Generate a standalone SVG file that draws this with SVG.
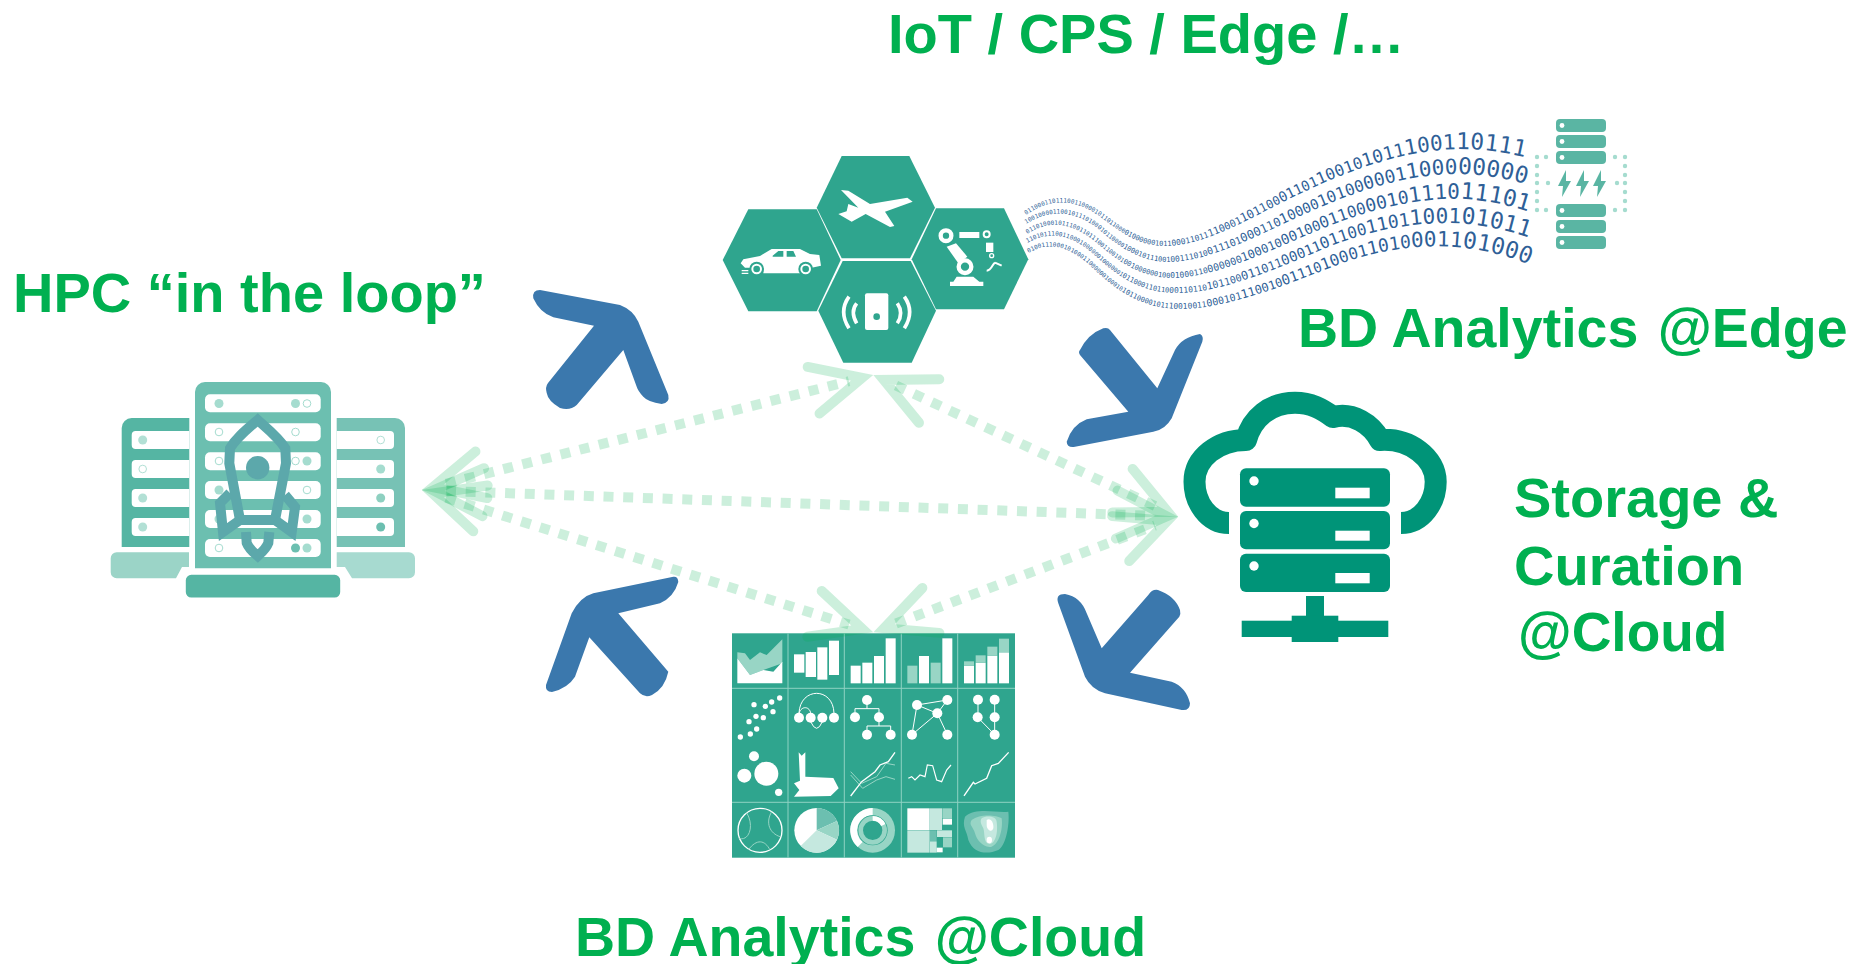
<svg xmlns="http://www.w3.org/2000/svg" xmlns:xlink="http://www.w3.org/1999/xlink" width="1860" height="964" viewBox="0 0 1860 964">
<style>
.t{font-family:"Liberation Sans",Arial,sans-serif;font-weight:700;font-size:56px;fill:#00b050;white-space:pre}
.t2{font-size:55.500px}
.hex{fill:#2fa58e}
.w{fill:#fff}.lw{stroke:#fff;fill:none}
.l1{fill:#98d5c5}.l2{fill:#c5e8df}.l3{fill:#6cbfb0}
.ln{stroke:#98d5c5;fill:none;stroke-width:3}
.blue{fill:#3b78ad}
.dash{stroke:#00b050;stroke-opacity:.2;stroke-width:10;stroke-dasharray:10 9.7;fill:none}
.head{stroke:#00b050;stroke-opacity:.2;stroke-width:10;fill:none;stroke-linecap:round;stroke-miterlimit:6}
.bin{font-family:"DejaVu Sans Mono","Liberation Mono",monospace;fill:#2f5f97}
.s5{font-size:6px}.s6{font-size:7px}.s7{font-size:8px}.s8{font-size:10px}.s10{font-size:12px}.s12{font-size:14px}.s14{font-size:16px}.s16{font-size:18px}.s18{font-size:21px}.s20{font-size:23px}
.srv{fill:#5ab5a3}.dot{fill:#a5dccf}
.cl{fill:#009478}
.slot{fill:#fff}
.rk{fill:none;stroke:#5ca8ab;stroke-width:10;stroke-linejoin:miter}
</style>
<defs>
<path id="h" class="head" d="M-61.600-24 L-11.600 0 L-61.600 24"/>
<path id="r1" transform="translate(1020 0) scale(1.2053 1) translate(-1020 0)" d="M1025 215C1045 198 1065 198 1087 217C1105 234 1120 246 1140 246C1175 246 1215 215 1250 195C1290 172 1335 150 1385 149C1405 149 1425 153 1442 158"/>
<path id="r2" transform="translate(1020 0) scale(1.2053 1) translate(-1020 0)" d="M1025 224C1045 209 1064 210 1084 228C1102 247 1119 261 1142 262C1179 262 1222 232 1260 212C1299 191 1342 173 1388 174C1408 175 1426 179 1442 185"/>
<path id="r3" transform="translate(1020 0) scale(1.2053 1) translate(-1020 0)" d="M1026 234C1045 219 1062 223 1081 240C1100 260 1118 277 1145 278C1182 278 1228 250 1270 229C1308 210 1350 197 1390 199C1410 201 1428 206 1443 212"/>
<path id="r4" transform="translate(1020 0) scale(1.2053 1) translate(-1020 0)" d="M1026 243C1045 230 1061 235 1078 251C1097 272 1116 292 1148 293C1186 294 1234 268 1280 245C1316 228 1358 220 1392 224C1412 227 1429 232 1443 238"/>
<path id="r5" transform="translate(1020 0) scale(1.2053 1) translate(-1020 0)" d="M1027 253C1045 240 1060 248 1075 262C1095 285 1115 307 1150 309C1190 310 1240 285 1290 262C1325 247 1365 243 1395 249C1415 253 1430 258 1443 265"/>
</defs>
<rect width="1860" height="964" fill="#fff"/>

<g id="label-iot"><text class="t" x="888" y="53">IoT / CPS / Edge /…</text></g>
<g id="label-hpc"><text class="t" x="13" y="312">HPC “in the loop”</text></g>
<g id="label-edge"><text class="t t2" x="1298" y="347">BD Analytics <tspan dx="4">@Edge</tspan></text></g>
<g id="label-storage"><text class="t" x="1514" y="517">Storage &amp;</text><text class="t" x="1514" y="585">Curation</text><text class="t" x="1518" y="651" style="font-size:55px">@Cloud</text></g>
<g id="label-cloud"><text class="t t2" x="575" y="956">BD Analytics <tspan dx="4">@Cloud</tspan></text></g>

<g id="hpc">
<path d="M121.700 547V428a10 10 0 0 1 10-10H189.300V547Z" fill="#55b5a3"/>
<path d="M336.700 418H395a10 10 0 0 1 10 10V547H336.700Z" fill="#77c2b5"/>
<path d="M116.700 552.300H189V567H182L176 578.300H116.700a6 6 0 0 1-6-6V558.300a6 6 0 0 1 6-6Z" fill="#9bd4c7"/>
<path d="M336.700 552.300H409a6 6 0 0 1 6 6V572.300a6 6 0 0 1-6 6H352L345 567H336.700Z" fill="#a7dad0"/>
<g class="slot">
<path d="M135.700 431H189.300V449H135.700a4 4 0 0 1-4-4V435a4 4 0 0 1 4-4ZM135.700 460H189.300V478H135.700a4 4 0 0 1-4-4V464a4 4 0 0 1 4-4ZM135.700 489H189.300V507H135.700a4 4 0 0 1-4-4V493a4 4 0 0 1 4-4ZM135.700 518H189.300V536H135.700a4 4 0 0 1-4-4V522a4 4 0 0 1 4-4Z"/>
<path d="M336.700 431H390a4 4 0 0 1 4 4V445a4 4 0 0 1-4 4H336.700ZM336.700 460H390a4 4 0 0 1 4 4V474a4 4 0 0 1-4 4H336.700ZM336.700 489H390a4 4 0 0 1 4 4V503a4 4 0 0 1-4 4H336.700ZM336.700 518H390a4 4 0 0 1 4 4V532a4 4 0 0 1-4 4H336.700Z"/>
</g>
<circle cx="142.700" cy="440" r="4.500" fill="#b2e0d5"/><circle cx="142.700" cy="469" r="3.800" fill="#fff" stroke="#b2e0d5"/><circle cx="142.700" cy="498" r="4.500" fill="#b2e0d5"/><circle cx="142.700" cy="527" r="4.500" fill="#b2e0d5"/>
<circle cx="380.700" cy="440" r="3.800" fill="#fff" stroke="#b2e0d5"/><circle cx="380.700" cy="469" r="4.500" fill="#a5dccf"/><circle cx="380.700" cy="498" r="4.500" fill="#8ed0c0"/><circle cx="380.700" cy="527" r="4.500" fill="#6cbfb0"/>
<path d="M195 392a10 10 0 0 1 10-10H321a10 10 0 0 1 10 10V568.300H195Z" fill="#6cbfb0"/>
<g class="slot">
<rect x="205" y="394.300" width="115.700" height="18" rx="5"/><rect x="205" y="423.300" width="115.700" height="18" rx="5"/><rect x="205" y="452.300" width="115.700" height="18" rx="5"/><rect x="205" y="481" width="115.700" height="18" rx="5"/><rect x="205" y="510" width="115.700" height="18" rx="5"/><rect x="205" y="539" width="115.700" height="18" rx="5"/>
</g>
<circle cx="219" cy="403.500" r="4.500" fill="#a5dccf"/><circle cx="295.500" cy="403.500" r="4.500" fill="#a5dccf"/><circle cx="307" cy="403.500" r="3.800" fill="#fff" stroke="#a5dccf"/>
<circle cx="219" cy="432" r="3.800" fill="#fff" stroke="#a5dccf"/><circle cx="295.500" cy="432" r="3.800" fill="#fff" stroke="#a5dccf"/>
<circle cx="219" cy="461" r="3.800" fill="#fff" stroke="#a5dccf"/><circle cx="295.500" cy="461" r="3.800" fill="#fff" stroke="#a5dccf"/><circle cx="307" cy="461" r="4.500" fill="#a5dccf"/>
<circle cx="219" cy="490" r="4.500" fill="#a5dccf"/><circle cx="307" cy="490" r="3.800" fill="#fff" stroke="#a5dccf"/>
<circle cx="219" cy="519" r="4.500" fill="#a5dccf"/><circle cx="307" cy="519" r="4.500" fill="#a5dccf"/>
<circle cx="219" cy="548" r="3.800" fill="#fff" stroke="#a5dccf"/><circle cx="295.500" cy="548" r="4.500" fill="#6cbfb0"/><circle cx="307" cy="548" r="4.500" fill="#a5dccf"/>
<rect x="184.300" y="573.300" width="157.400" height="25.700" rx="7" fill="#55b5a3" stroke="#fff" stroke-width="3"/>
<path class="rk" d="M257.700 420C246 430 236 438 230 448.300L229.300 463.300L240 520H275L286 463.300L285.300 448.300C279 438 269 430 257.700 420Z"/>
<path class="rk" d="M230 493L220 503L223 532L240 520M285 495L295 507L291.700 532L275 520"/>
<path class="rk" d="M246 532L246.700 543C249 549 253 552 257.700 556C262 552 266 549 268.300 543L269.300 532"/>
<circle cx="257.700" cy="467.700" r="11.700" fill="#5ca8ab"/>
</g>

<g id="iot">
<polygon class="hex" points="841.700,156 909.300,156 935,207.700 910,258.300 841.700,258.300 816.700,207.700"/>
<polygon class="hex" points="748.300,209.300 816.700,209.300 840.700,260 816.700,311.300 748.300,311.300 722.700,260"/>
<polygon class="hex" points="936,208.300 1004,208.300 1028.300,259.300 1004,309.300 936,309.300 911.700,259.300"/>
<polygon class="hex" points="842.700,261 910.700,261 936,310.700 911.700,362.700 843.300,362.700 818.300,310.700"/>
<g transform="translate(700 100) scale(.33333)">
<polygon class="w" points="423,270 445,272 510,312 622,293 638,305 555,335 583,378 570,381 497,342 455,365 415,342 440,334 445,312 475,323"/>
<path class="w" d="M122 490L130 478L180 468L215 447H300L330 462L358 465L363 497L335 503H300V520H190V503H135Z"/>
<g fill="#2fa58e"><path d="M218 467L235 453H250V470H218ZM260 453H280L288 470H260Z"/><circle cx="170" cy="507" r="22"/><circle cx="317" cy="507" r="22"/></g>
<circle cx="170" cy="507" r="13" fill="none" stroke="#fff" stroke-width="6"/><circle cx="317" cy="507" r="13" fill="none" stroke="#fff" stroke-width="6"/>
<path d="M125 512H145M200 512H290M125 520H145" stroke="#fff" stroke-width="4"/>
<circle cx="738" cy="407" r="16" fill="none" stroke="#fff" stroke-width="13"/>
<rect class="w" x="778" y="396" width="60" height="18"/><circle cx="860" cy="403" r="9" fill="none" stroke="#fff" stroke-width="6"/>
<rect class="w" x="858" y="428" width="22" height="28"/><circle cx="875" cy="467" r="6" fill="none" stroke="#fff" stroke-width="4"/>
<path d="M860 512C875 512 878 490 885 488M885 488L905 497" stroke="#fff" stroke-width="6" fill="none"/>
<polygon class="w" points="740,440 768,430 802,470 775,490"/><circle cx="795" cy="500" r="19" fill="none" stroke="#fff" stroke-width="13"/>
<path class="w" d="M770 530H820L838 545H850V558H750V545H760Z"/>
<rect class="w" x="495" y="580" width="70" height="110" rx="6"/><circle cx="530" cy="650" r="10" fill="#2fa58e"/>
<path d="M447 590Q415 635 447 685M470 610Q450 635 470 670M613 590Q645 635 613 685M592 610Q612 640 592 670" stroke="#fff" stroke-width="11" fill="none"/>
</g>
</g>

<g id="stream">
<text class="bin"><textPath href="#r1"><tspan class="s5">011000110111001100001011011000</tspan><tspan class="s6">010000001011</tspan><tspan class="s7">00011011</tspan><tspan class="s8">110001</tspan><tspan class="s10">101100</tspan><tspan class="s12">01101</tspan><tspan class="s14">10010</tspan><tspan class="s16">1011</tspan><tspan class="s18">1001</tspan><tspan class="s20">10111</tspan></textPath></text>
<text class="bin"><textPath href="#r2"><tspan class="s5">100100001100101110100010110000</tspan><tspan class="s6">100010111001</tspan><tspan class="s7">00111010</tspan><tspan class="s8">011101</tspan><tspan class="s10">000110</tspan><tspan class="s12">10000</tspan><tspan class="s14">10100</tspan><tspan class="s16">0001</tspan><tspan class="s18">1000</tspan><tspan class="s20">00000</tspan></textPath></text>
<text class="bin"><textPath href="#r3"><tspan class="s5">011010001011100110111001100101</tspan><tspan class="s6">001000000100</tspan><tspan class="s7">01000110</tspan><tspan class="s8">000000</tspan><tspan class="s10">100010</tspan><tspan class="s12">00100</tspan><tspan class="s14">01100</tspan><tspan class="s16">0010</tspan><tspan class="s18">1110</tspan><tspan class="s20">11101</tspan></textPath></text>
<text class="bin"><textPath href="#r4"><tspan class="s5">110101110011000100000010000001</tspan><tspan class="s6">011000110110</tspan><tspan class="s7">00110110</tspan><tspan class="s8">101100</tspan><tspan class="s10">011011</tspan><tspan class="s12">00011</tspan><tspan class="s14">01100</tspan><tspan class="s16">1101</tspan><tspan class="s18">1001</tspan><tspan class="s20">01011</tspan></textPath></text>
<text class="bin"><textPath href="#r5"><tspan class="s5">010011100010100011000000100010</tspan><tspan class="s6">101100001011</tspan><tspan class="s7">10010011</tspan><tspan class="s8">000101</tspan><tspan class="s10">110010</tspan><tspan class="s12">01110</tspan><tspan class="s14">10001</tspan><tspan class="s16">1010</tspan><tspan class="s18">0011</tspan><tspan class="s20">01000</tspan></textPath></text>
</g>

<g id="edge-server">
<g class="srv"><rect x="1556" y="119" width="50" height="13" rx="4"/><rect x="1556" y="135" width="50" height="13" rx="4"/><rect x="1556" y="151" width="50" height="13" rx="4"/><rect x="1556" y="204" width="50" height="13" rx="4"/><rect x="1556" y="220" width="50" height="13" rx="4"/><rect x="1556" y="236" width="50" height="13" rx="4"/>
<polygon points="1566,170 1558,186 1563,186 1562,197 1571,181 1566,181"/><polygon points="1584,170 1576,186 1581,186 1580,197 1589,181 1584,181"/><polygon points="1601,170 1593,186 1598,186 1597,197 1606,181 1601,181"/></g>
<g fill="#fff"><circle cx="1562" cy="125.500" r="2.400"/><circle cx="1562" cy="141.500" r="2.400"/><circle cx="1562" cy="157.500" r="2.400"/><circle cx="1562" cy="210.500" r="2.400"/><circle cx="1562" cy="226.500" r="2.400"/><circle cx="1562" cy="242.500" r="2.400"/></g>
<g class="dot"><circle cx="1537" cy="157" r="2.200"/><circle cx="1546" cy="157" r="2.200"/><circle cx="1615" cy="157" r="2.200"/><circle cx="1625" cy="157" r="2.200"/><circle cx="1537" cy="166" r="2.200"/><circle cx="1625" cy="166" r="2.200"/><circle cx="1537" cy="175" r="2.200"/><circle cx="1625" cy="175" r="2.200"/><circle cx="1537" cy="183" r="2.200"/><circle cx="1548" cy="183" r="2.200"/><circle cx="1617" cy="183" r="2.200"/><circle cx="1625" cy="183" r="2.200"/><circle cx="1537" cy="192" r="2.200"/><circle cx="1625" cy="192" r="2.200"/><circle cx="1537" cy="201" r="2.200"/><circle cx="1625" cy="201" r="2.200"/><circle cx="1537" cy="210" r="2.200"/><circle cx="1546" cy="210" r="2.200"/><circle cx="1615" cy="210" r="2.200"/><circle cx="1625" cy="210" r="2.200"/></g>
</g>

<g id="cloud">
<path d="M1229 523C1208 523 1194.500 502 1194.500 481.700C1194.500 458 1218 440 1246 440C1252 418 1270 402.700 1295 402.700C1311 402.700 1322 409 1333 417C1353 412 1371 424 1380 440C1410 438 1435.700 458 1435.700 481.700C1435.700 502 1422 523 1401 523" fill="none" stroke="#009478" stroke-width="22" stroke-linejoin="round"/>
<g class="cl"><rect x="1240" y="468.300" width="150" height="38.400" rx="6"/><rect x="1240" y="511" width="150" height="38.300" rx="6"/><rect x="1240" y="553.700" width="150" height="38.300" rx="6"/><rect x="1306" y="596" width="18" height="21"/><rect x="1241.700" y="620.700" width="146.600" height="16.300"/><rect x="1291.700" y="615.700" width="46.600" height="26.300"/></g>
<g fill="#fff"><circle cx="1254" cy="481" r="4.700"/><circle cx="1254" cy="523.500" r="4.700"/><circle cx="1254" cy="566" r="4.700"/><rect x="1335.300" y="487.700" width="34.400" height="10.600"/><rect x="1335.300" y="530.700" width="34.400" height="10"/><rect x="1335.300" y="573" width="34.400" height="10.300"/></g>
</g>

<g id="analytics">
<rect x="732" y="633.300" width="283" height="224.400" fill="#2fa58e"/>
<path d="M788 633.300V857.700M844.300 633.300V857.700M901.300 633.300V857.700M957.700 633.300V857.700M732 688.300H1015M732 802.300H1015" stroke="#8fd2c3" stroke-width="1"/>
<g transform="translate(720 620) scale(.33333)">
<polygon class="l1" points="52,97 75,100 90,120 120,97 140,105 187,58 187,130 130,150 90,165 52,115"/>
<polygon class="w" points="52,190 52,115 90,165 130,150 160,155 187,125 187,190"/>
<g class="w"><rect x="222" y="103" width="31" height="55"/><rect x="257" y="96" width="31" height="75"/><rect x="292" y="82" width="30" height="97"/><rect x="327" y="62" width="30" height="103"/>
<rect x="392" y="137" width="30" height="53"/><rect x="427" y="128" width="30" height="62"/><rect x="462" y="108" width="30" height="82"/><rect x="497" y="55" width="30" height="135"/>
<rect x="597" y="108" width="30" height="82"/><rect x="667" y="55" width="30" height="135"/>
<rect x="732" y="137" width="30" height="53"/><rect x="767" y="128" width="30" height="62"/><rect x="802" y="107" width="30" height="83"/><rect x="837" y="97" width="30" height="93"/></g>
<g class="l1"><rect x="562" y="137" width="30" height="53"/><rect x="632" y="128" width="30" height="62"/><rect x="732" y="124" width="30" height="13"/><rect x="767" y="106" width="30" height="22"/><rect x="802" y="80" width="30" height="27"/><rect x="837" y="56" width="30" height="41"/></g>
<g class="w"><circle cx="61" cy="351" r="8"/><circle cx="91" cy="342" r="8"/><circle cx="110" cy="327" r="8"/><circle cx="87" cy="305" r="8"/><circle cx="108" cy="289" r="8"/><circle cx="130" cy="293" r="8"/><circle cx="159" cy="275" r="8"/><circle cx="136" cy="259" r="8"/><circle cx="155" cy="246" r="8"/><circle cx="179" cy="234" r="8"/><circle cx="102" cy="254" r="8"/></g>
<path class="lw" stroke-width="3" d="M237 280C240 200 340 200 342 280M237 280C245 255 270 260 272 280M272 305Q290 345 307 305"/>
<g class="w"><circle cx="237" cy="293" r="15"/><circle cx="272" cy="293" r="15"/><circle cx="307" cy="293" r="15"/><circle cx="342" cy="293" r="15"/>
<circle cx="441" cy="240" r="15"/><circle cx="405" cy="292" r="15"/><circle cx="477" cy="292" r="15"/><circle cx="441" cy="344" r="15"/><circle cx="512" cy="344" r="15"/>
<circle cx="591" cy="255" r="15"/><circle cx="682" cy="240" r="15"/><circle cx="652" cy="280" r="15"/><circle cx="576" cy="344" r="15"/><circle cx="682" cy="344" r="15"/>
<circle cx="774" cy="239" r="15"/><circle cx="824" cy="239" r="15"/><circle cx="773" cy="292" r="15"/><circle cx="824" cy="292" r="15"/><circle cx="824" cy="344" r="15"/>
<circle cx="102" cy="409" r="15"/><circle cx="73" cy="467" r="21"/><circle cx="139" cy="461" r="36"/><circle cx="176" cy="517" r="11"/></g>
<path class="lw" stroke-width="3" d="M441 240V266M405 292V266H477V292M477 292V318M441 344V318H512V344M591 255L682 240M591 255L652 280M591 255L576 344M652 280L576 344M652 280L682 344M652 280L682 240M774 239V292M824 239V344M773 292L824 344"/>
<polygon class="w" points="236,397 245,407 256,397 256,470 340,474 356,505 332,528 222,530 238,510 222,490 240,482"/>
<path class="ln" d="M392 455L425 490L470 470L498 430L525 435M392 465L428 505L470 480L498 470L525 478"/>
<path class="lw" stroke-width="4" d="M392 528L425 485L465 455L480 435L505 425L525 397"/>
<path class="lw" stroke-width="3.500" d="M565 475L575 470L585 480L600 465L615 470L622 435L638 437L650 480L665 485L680 450L693 435"/>
<path class="lw" stroke-width="4" d="M732 528L760 487L765 492L800 475L815 437L835 430L866 397"/>
<circle class="lw" stroke-width="4" cx="120" cy="631" r="66"/>
<path class="ln" d="M80 578C105 620 85 665 58 655M155 575C135 610 150 640 180 650M85 690C110 655 135 660 150 690"/>
<circle cx="290" cy="631" r="67" class="w"/>
<path class="l3" d="M290 631V564A67 67 0 0 1 351 603Z"/><path class="l1" d="M290 631L351 603A67 67 0 0 1 351 659Z"/><path class="l2" d="M290 631L351 659A67 67 0 0 1 242 678Z"/>
<circle cx="458" cy="631" r="67" class="l1"/><path class="w" d="M458 564V586A45 45 0 0 0 428 666L413 681A67 67 0 0 1 458 564Z"/>
<circle cx="458" cy="631" r="45" fill="#2fa58e"/><circle cx="458" cy="631" r="36" fill="none" stroke="#98d5c5" stroke-width="14"/><path d="M458 595A36 36 0 0 1 490 615" fill="none" stroke="#fff" stroke-width="14"/>
<circle cx="458" cy="631" r="21" fill="#2fa58e"/>
<rect class="w" x="562" y="565" width="67" height="65"/><rect class="l2" x="562" y="631" width="67" height="67"/><rect class="l2" x="630" y="565" width="36" height="65"/><rect class="l1" x="667" y="565" width="29" height="30"/><rect class="w" x="668" y="596" width="28" height="18"/><rect class="l3" x="630" y="631" width="20" height="32"/><rect class="l2" x="651" y="631" width="45" height="20"/><rect class="l2" x="630" y="664" width="20" height="34"/><rect class="w" x="650" y="683" width="18" height="14"/><rect class="l1" x="669" y="652" width="27" height="30"/>
<path class="l3" d="M735 590C770 560 830 580 865 575C870 620 855 680 835 690C800 705 760 700 745 660C740 630 725 620 735 590Z"/>
<path class="l1" d="M755 600C780 580 830 585 845 595C850 630 835 675 815 680C790 685 770 660 765 640C760 620 745 615 755 600Z"/>
<path class="l2" d="M785 595C800 585 830 590 830 605C835 640 825 672 808 672C790 670 795 640 790 625C785 615 778 605 785 595Z"/>
<path class="w" d="M800 600C810 592 822 605 820 625C815 640 800 630 800 615Z"/><ellipse class="w" cx="808" cy="660" rx="8" ry="10"/>
</g>
</g>

<g id="arrows">
<path class="blue" d="M1080 350Q1088 334 1103.300 328.300Q1108 327 1110 330L1157.300 388.300L1175 350Q1182 337 1200 334Q1204 336 1202.300 341.700L1171.700 418.300Q1165 430 1153.300 431.700L1075 446.700Q1067 448 1066.700 441.700Q1072 425 1086.700 419.300L1128.300 411.700L1080 355Q1078 352 1080 350Z"/>
<path class="blue" d="M1148.300 595Q1152 589 1158 590Q1175 596 1180 610Q1181 614 1179.300 616.700L1130 672.700L1171.700 681.700Q1186 687 1190 703.300Q1190 711 1181.700 710L1105 693.300Q1091 689 1085 676.700L1058.300 603.300Q1055 594 1065 594Q1081 597 1086.700 613.300L1101.700 648.300Z"/>
<path class="blue" d="M540 290L620 305Q633 310 638.300 321.700L668.300 395Q670 403 661.700 404Q648 402 643.300 396.700Q638 391 636.700 386.700L623.300 350L576.700 405Q570 411 560 408Q548 401 546.700 393Q545 387 548 383L594 325.700L553.300 317.300Q540 313 533.300 298.300Q532 290 540 290Z"/>
<path class="blue" d="M673.300 576.700L593.300 593.300Q580 597 571.700 613.300L546 685Q545 692 552 692Q568 688 575 676.700L589.300 637.300L640 693.300Q645 698 652 695Q665 688 668.300 671.700L618.300 613.300L660 603.300Q674 597 678.300 582Q678 576 673.300 576.700Z"/>
</g>

<g id="connectors">
<path class="dash" d="M446 483.800L849 381.200"/>
<path class="dash" d="M446 491L1153 515.800"/>
<path class="dash" d="M446 497.700L849 624.600"/>
<path class="dash" d="M896 385.500L1155 506"/>
<path class="dash" d="M896 623.500L1155 525.500"/>
<use href="#h" transform="translate(421.700 490) rotate(165.700)"/>
<use href="#h" transform="translate(421.700 490) rotate(182)"/>
<use href="#h" transform="translate(421.700 490) rotate(197.400)"/>
<use href="#h" transform="translate(873.300 375) rotate(-14.300)"/>
<use href="#h" transform="translate(873.300 375) rotate(205)"/>
<use href="#h" transform="translate(1178.300 516.700) rotate(2)"/>
<use href="#h" transform="translate(1178.300 516.700) rotate(25)"/>
<use href="#h" transform="translate(1178.300 516.700) rotate(-20.800)"/>
<use href="#h" transform="translate(873.300 632.300) rotate(17.400)"/>
<use href="#h" transform="translate(873.300 632.300) rotate(159.200)"/>
</g>
</svg>
